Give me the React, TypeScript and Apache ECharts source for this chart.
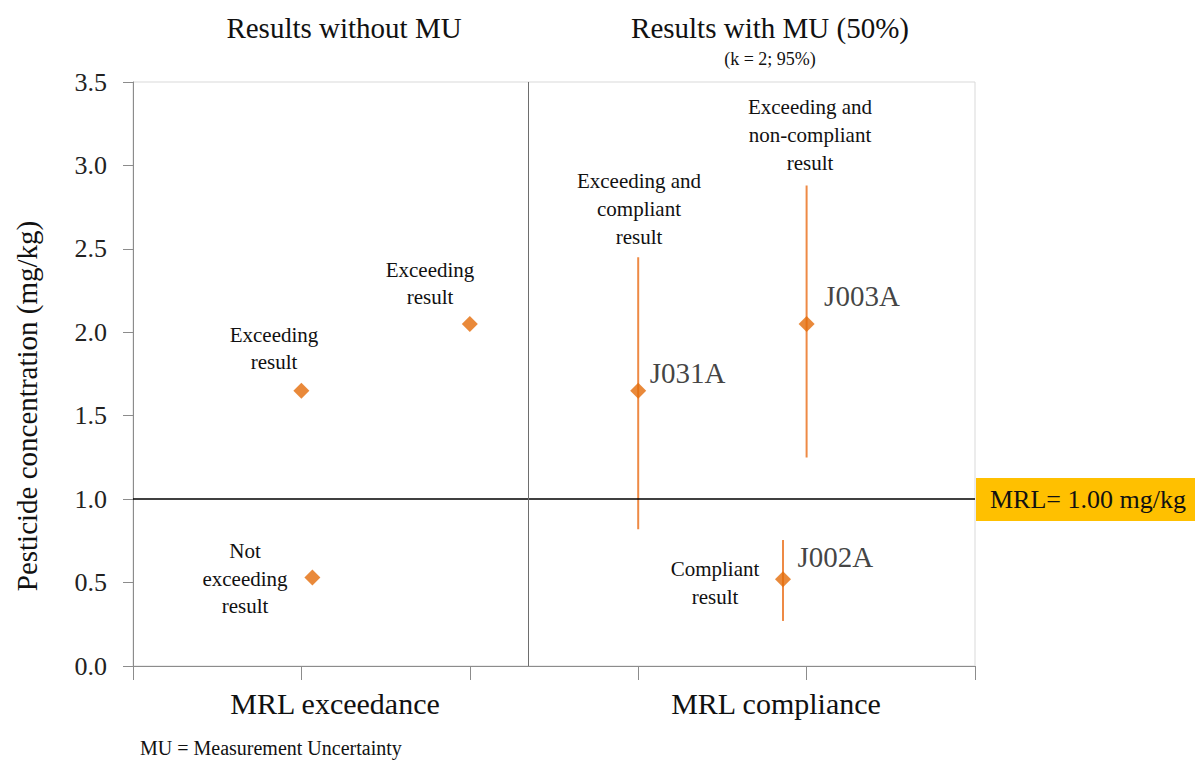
import React, { useEffect, useRef } from "react";
import * as echarts from "echarts";

// Results without measurement uncertainty: [x position, concentration mg/kg]
const withoutMU: number[][] = [
  [1, 1.65],
  [2, 2.05],
  [1.065, 0.53],
];
// Results with MU: [x position, value, low, high]
const withMUNames = ["J031A", "J003A", "J002A"];
const withMU: number[][] = [
  [3, 1.65, 0.82, 2.45],
  [4, 2.05, 1.25, 2.88],
  [3.86, 0.52, 0.27, 0.755],
];
const MRL = 1.0;
const DIVIDER_X = 2.35;
const yTicks = { min: 0, max: 3.5, interval: 0.5 };
const xTicks = { min: 0, max: 5, interval: 1 };

const SERIF = '"Liberation Serif", "Times New Roman", serif';
const ORANGE = "#E36C09";
const BAR = "#EE8A45";
const labelOffsets = [
  [3.5, -18],
  [9.5, -28],
  [6.5, -22],
];

export default function App() {
  const ref = useRef<HTMLDivElement>(null);
  useEffect(() => {
    if (!ref.current) return;
    const chart = echarts.init(ref.current, null, { renderer: "svg" });
    const txt = (x: number, y: number, text: string, size: number, align = "center", lh?: number, rot = 0) => ({
      type: "text",
      x,
      y,
      rotation: rot,
      style: {
        text,
        fontFamily: SERIF,
        fontSize: size,
        fill: "#111",
        align,
        verticalAlign: "middle",
        lineHeight: lh ?? size * 1.3,
      },
    });
    chart.setOption({
      animation: false,
      backgroundColor: "#fff",
      grid: {
        left: 133,
        right: 228,
        top: 82,
        bottom: 103,
        show: true,
        borderColor: "#d9d9d9",
        borderWidth: 1,
      },
      xAxis: {
        type: "value",
        min: xTicks.min,
        max: xTicks.max,
        interval: xTicks.interval,
        axisLine: { show: true, lineStyle: { color: "#8c8c8c", width: 1 } },
        axisTick: { show: true, length: 14, lineStyle: { color: "#8c8c8c" } },
        axisLabel: { show: false },
        splitLine: { show: false },
      },
      yAxis: {
        type: "value",
        min: yTicks.min,
        max: yTicks.max,
        interval: yTicks.interval,
        axisLine: { show: true, lineStyle: { color: "#8c8c8c", width: 1 } },
        axisTick: { show: true, length: 10, lineStyle: { color: "#8c8c8c" } },
        axisLabel: {
          fontFamily: SERIF,
          fontSize: 26,
          color: "#222",
          margin: 26,
          formatter: (v: number) => v.toFixed(1),
        },
        splitLine: { show: false },
      },
      series: [
        {
          type: "custom",
          renderItem: (params: any, api: any) => {
            const x = api.value(0);
            const lo = api.coord([x, api.value(2)]);
            const hi = api.coord([x, api.value(3)]);
            return {
              type: "line",
              shape: { x1: lo[0], y1: lo[1], x2: hi[0], y2: hi[1] },
              style: { stroke: BAR, lineWidth: 2 },
            };
          },
          data: withMU,
          encode: { x: 0, y: [2, 3] },
          z: 2,
        },
        {
          type: "scatter",
          symbol: "diamond",
          symbolSize: 16,
          itemStyle: { color: ORANGE },
          data: withoutMU,
          z: 5,
          markLine: {
            silent: true,
            symbol: "none",
            label: { show: false },
            data: [
              { yAxis: MRL, lineStyle: { color: "#000", width: 1.5, type: "solid" } },
              { xAxis: DIVIDER_X, lineStyle: { color: "#6e6e6e", width: 1, type: "solid" } },
            ],
          },
        },
        {
          type: "scatter",
          symbol: "diamond",
          symbolSize: 16,
          itemStyle: { color: ORANGE },
          data: withMU.map((d, i) => ({
            value: [d[0], d[1]],
            name: withMUNames[i],
            label: { offset: labelOffsets[i] },
          })),
          z: 5,
          label: {
            show: true,
            position: "right",
            distance: 0,
            formatter: (p: any) => p.name,
            fontFamily: SERIF,
            fontSize: 29,
            color: "#111",
          },
        },
      ],
      graphic: [
        txt(27, 406, "Pesticide concentration (mg/kg)", 29, "center", 32, Math.PI / 2),
        txt(344, 28, "Results without MU", 29, "center"),
        txt(770, 28, "Results with MU (50%)", 29, "center"),
        txt(770, 59, "(k = 2; 95%)", 18, "center"),
        txt(274, 348.5, "Exceeding\nresult", 21, "center", 27.5),
        txt(430, 283.5, "Exceeding\nresult", 21, "center", 27.5),
        txt(245, 578.5, "Not\nexceeding\nresult", 21, "center", 27.5),
        txt(639, 209, "Exceeding and\ncompliant\nresult", 21, "center", 28),
        txt(810, 135, "Exceeding and\nnon-compliant\nresult", 21, "center", 28),
        txt(715, 583, "Compliant\nresult", 21, "center", 28),
        txt(335, 703, "MRL exceedance", 30, "center"),
        txt(776, 703, "MRL compliance", 30, "center"),
        txt(140, 748, "MU = Measurement Uncertainty", 20, "left"),
        {
          type: "rect",
          shape: { x: 976, y: 478, width: 230, height: 43 },
          style: { fill: "#FFC000" },
        },
        txt(990, 499, "MRL= 1.00 mg/kg", 26, "left"),
      ],
    });
    return () => chart.dispose();
  }, []);
  return <div ref={ref} style={{ width: 1203, height: 769, margin: -8 }} />;
}
